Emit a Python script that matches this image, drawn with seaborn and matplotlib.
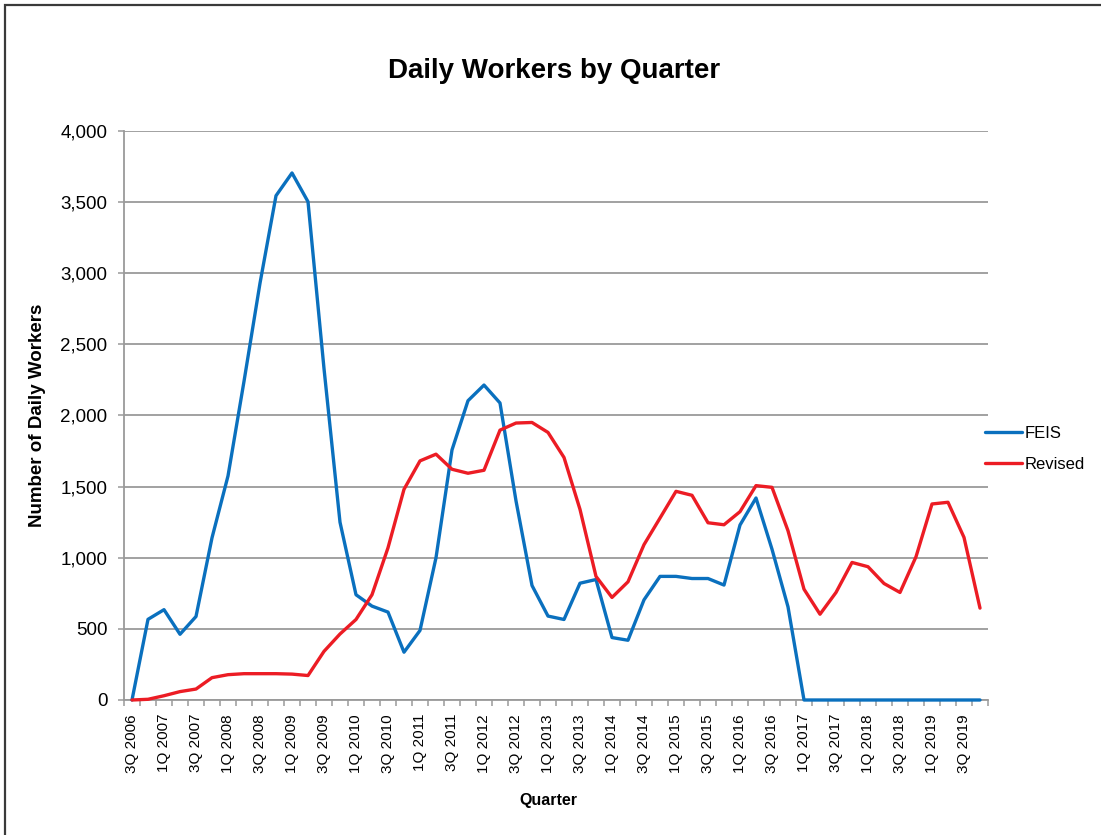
import numpy as np
import pandas as pd
import matplotlib
matplotlib.use("Agg")
import matplotlib.pyplot as plt
from matplotlib.patches import Rectangle
from matplotlib.lines import Line2D
from matplotlib.ticker import FuncFormatter, MultipleLocator, FixedLocator
import seaborn as sns

# ---- data ----
years = list(range(2006, 2020))
quarters = []
for y in years:
    for q in (1, 2, 3, 4):
        if y == 2006 and q < 3:
            continue
        quarters.append(f"{q}Q {y}")

feis = [0, 567, 635, 462, 587, 1140, 1575, 2240, 2930, 3545,
        3705, 3503, 2330, 1250, 740, 660, 618, 336, 489, 1000,
        1758, 2104, 2214, 2088, 1400, 805, 590, 566, 821, 847,
        439, 420, 704, 869, 869, 854, 854, 808, 1230, 1420,
        1060, 655, 0, 0, 0, 0, 0, 0, 0, 0,
        0, 0, 0, 0]
revised = [0, 5, 30, 59, 77, 157, 178, 185, 185, 185,
           182, 172, 342, 464, 566, 740, 1070, 1481, 1681, 1728,
           1622, 1594, 1615, 1897, 1947, 1951, 1881, 1705, 1340, 869,
           721, 831, 1092, 1279, 1467, 1439, 1246, 1232, 1324, 1507,
           1495, 1190, 779, 603, 756, 967, 937, 819, 756, 1007,
           1378, 1390, 1143, 646]
series_names = ["FEIS", "Revised"]
colors = ["#0A70BE", "#EC1C24"]

# ---- long table ----
idx = np.arange(len(quarters))
df = pd.DataFrame({
    "pos": np.concatenate([idx, idx]),
    "value": np.concatenate([feis, revised]),
    "series": [series_names[0]] * len(idx) + [series_names[1]] * len(idx),
})

sns.set_theme(style="white")
plt.rcParams["font.family"] = ["Liberation Sans", "DejaVu Sans"]
plt.rcParams["text.color"] = "black"
plt.rcParams["axes.labelcolor"] = "black"
plt.rcParams["xtick.color"] = "black"
plt.rcParams["ytick.color"] = "black"

W, H = 1101, 835
fig = plt.figure(figsize=(W / 100, H / 100), dpi=100)
ax = fig.add_axes([124 / W, 1 - 700 / H, (988 - 124) / W, (700 - 131) / H])

sns.lineplot(data=df, x="pos", y="value", hue="series", palette=colors,
             linewidth=2.4, ax=ax, legend=False, sort=False)
for ln in ax.lines:
    ln.set_clip_on(False)
    ln.set_zorder(5)

grid_c = "#9a9a9a"
ax.set_xlim(-0.5, len(quarters) - 0.5)
ax.set_ylim(0, 4000)
ax.yaxis.set_major_locator(MultipleLocator(500))
ax.yaxis.set_major_formatter(FuncFormatter(lambda v, p: f"{int(v):,}"))
ax.grid(axis="y", color=grid_c, linewidth=1.3)
ax.grid(axis="x", visible=False)
ax.set_axisbelow(True)

ax.xaxis.set_major_locator(FixedLocator(idx[::2]))
ax.set_xticklabels(quarters[::2], rotation=90, fontsize=11, va="top", color="black")
ax.xaxis.set_minor_locator(FixedLocator(np.arange(-0.5, len(quarters), 1.0)))
ax.tick_params(axis="x", which="major", length=0, pad=10, labelcolor="black")
ax.tick_params(axis="x", which="minor", length=4, width=1.1, color=grid_c, direction="out", bottom=True)
ax.tick_params(axis="y", which="major", length=4, width=1.1, color=grid_c, labelsize=13.5, pad=8,
               left=True, labelcolor="black")

ax.set_xlabel("")
ax.set_ylabel("")
for s in ("top", "right"):
    ax.spines[s].set_visible(False)
for s in ("left", "bottom"):
    ax.spines[s].set_color(grid_c)
    ax.spines[s].set_linewidth(1.3)

# legend
handles = [Line2D([0], [0], color=c, linewidth=2.4) for c in colors]
fig.legend(handles, series_names, loc="center left",
           bbox_to_anchor=(985 / W, 1 - 449 / H), frameon=False,
           fontsize=12, handlelength=2.2, handletextpad=0.15, labelspacing=0.95,
           borderaxespad=0, borderpad=0, labelcolor="black")

# texts
fig.text(554 / W, 1 - 71 / H, "Daily Workers by Quarter", ha="center", va="center",
         fontsize=20, fontweight="bold", color="black")
fig.text(38 / W, 1 - 415 / H, "Number of Daily Workers", ha="center", va="center",
         rotation=90, fontsize=13.5, fontweight="bold", color="black")
fig.text(548 / W, 1 - 800 / H, "Quarter", ha="center", va="center",
         fontsize=11.5, fontweight="bold", color="black")

# chart border
fig.patches.append(Rectangle((5 / W, -0.1), 1.2, 1.1 - 5 / H, transform=fig.transFigure,
                             fill=False, edgecolor="#3a3a3a", linewidth=1.6, figure=fig))

fig.savefig("out.png", dpi=100)
